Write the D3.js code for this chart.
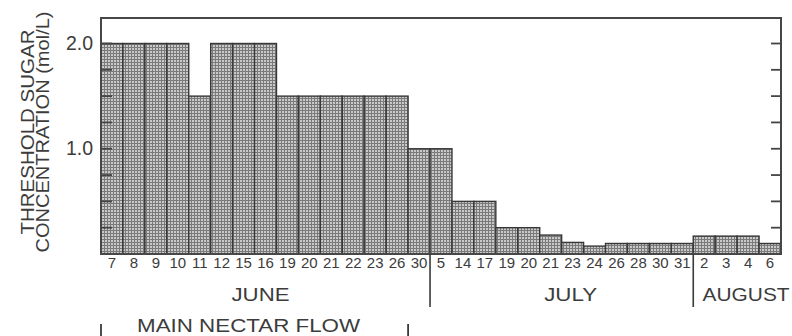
<!DOCTYPE html>
<html>
<head>
<meta charset="utf-8">
<script src="https://cdn.jsdelivr.net/npm/d3@7/dist/d3.min.js"></script>
<style>
  html, body { margin: 0; padding: 0; background: #ffffff; }
  svg { display: block; }
  text { font-family: "Liberation Sans", Arial, Helvetica, sans-serif; fill: #3c3c3c; }
</style>
</head>
<body>
<svg id="chart" width="792" height="336"></svg>
<script>
// Threshold sugar concentration (mol/L) by sampling day, grouped by month
const months = ["JUNE", "JULY", "AUGUST"];
const juneDays = [7, 8, 9, 10, 11, 12, 15, 16, 19, 20, 21, 22, 23, 26, 30];
const juneValues = [2.0, 2.0, 2.0, 2.0, 1.5, 2.0, 2.0, 2.0, 1.5, 1.5, 1.5, 1.5, 1.5, 1.5, 1.0];
const julyDays = [5, 14, 17, 19, 20, 21, 23, 24, 26, 28, 30, 31];
const julyValues = [1.0, 0.5, 0.5, 0.25, 0.25, 0.18, 0.11, 0.075, 0.1, 0.1, 0.1, 0.1];
const augustDays = [2, 3, 4, 6];
const augustValues = [0.17, 0.17, 0.17, 0.1];
const yTickLabels = [2.0, 1.0];
const yMinorTicks = [0.25, 0.5, 0.75, 1.0, 1.25, 1.5, 1.75, 2.0];
// Main nectar flow: June 7 through June 26
const nectarFlow = { label: "MAIN NECTAR FLOW", from: "JUNE-7", to: "JUNE-26" };
const yTitle = ["THRESHOLD SUGAR", "CONCENTRATION (mol/L)"];

const monthDays = [juneDays, julyDays, augustDays];
const monthValues = [juneValues, julyValues, augustValues];
const data = [];
months.forEach((m, i) => {
  monthDays[i].forEach((d, j) => {
    data.push({ key: m + "-" + d, month: m, day: d, value: monthValues[i][j] });
  });
});

const svg = d3.select("#chart");
const plotLeft = 101, plotRight = 781, plotTop = 18;

const x = d3.scaleBand().domain(data.map(d => d.key)).range([plotLeft, plotRight]).padding(0);
const y = d3.scaleLinear().domain([0, 2]).range([254, 43.5]);

// Stippled fill for the bars
const defs = svg.append("defs");
const pat = defs.append("pattern")
  .attr("id", "stipple").attr("patternUnits", "userSpaceOnUse")
  .attr("width", 3).attr("height", 3);
pat.append("rect").attr("width", 3).attr("height", 3).attr("fill", "#c9c9c9");
pat.append("rect").attr("x", 2).attr("width", 1).attr("height", 3).attr("fill", "#7a7a7a");
pat.append("rect").attr("y", 2).attr("width", 3).attr("height", 1).attr("fill", "#7a7a7a");

// Bars
svg.append("g").selectAll("rect").data(data).join("rect")
  .attr("x", d => x(d.key))
  .attr("y", d => y(d.value))
  .attr("width", x.bandwidth())
  .attr("height", d => y(0) - y(d.value))
  .attr("fill", "url(#stipple)")
  .attr("stroke", "#383838")
  .attr("stroke-width", 1.4);

// Frame
svg.append("rect")
  .attr("x", plotLeft).attr("y", plotTop)
  .attr("width", plotRight - plotLeft).attr("height", y(0) - plotTop)
  .attr("fill", "none").attr("stroke", "#474747").attr("stroke-width", 2);

// Inward ticks on both sides
const tickG = svg.append("g").attr("stroke", "#444").attr("stroke-width", 1.8);
tickG.selectAll("line.l").data(yMinorTicks).join("line").attr("class", "l")
  .attr("x1", plotLeft).attr("x2", plotLeft + 11)
  .attr("y1", d => y(d)).attr("y2", d => y(d));
tickG.selectAll("line.r").data(yMinorTicks).join("line").attr("class", "r")
  .attr("x1", plotRight - 10).attr("x2", plotRight)
  .attr("y1", d => y(d)).attr("y2", d => y(d));

// Y tick labels
svg.append("g").selectAll("text").data(yTickLabels).join("text")
  .attr("x", 93).attr("y", d => y(d) - 1).attr("dy", "0.36em")
  .attr("text-anchor", "end").attr("font-size", 19.5)
  .text(d => d.toFixed(1));

// Y title (two lines)
svg.append("text")
  .attr("transform", "translate(33.5,132) rotate(-90)")
  .attr("text-anchor", "middle").attr("font-size", 18)
  .attr("textLength", 205).attr("lengthAdjust", "spacingAndGlyphs")
  .text(yTitle[0]);
svg.append("text")
  .attr("transform", "translate(49,132) rotate(-90)")
  .attr("text-anchor", "middle").attr("font-size", 18)
  .attr("textLength", 241).attr("lengthAdjust", "spacingAndGlyphs")
  .text(yTitle[1]);

// Day labels
svg.append("g").selectAll("text").data(data).join("text")
  .attr("x", d => x(d.key) + x.bandwidth() / 2)
  .attr("y", 268)
  .attr("text-anchor", "middle").attr("font-size", 15)
  .text(d => d.day);

// Month dividers and labels
const monthSpan = months.map(m => {
  const keys = data.filter(d => d.month === m).map(d => d.key);
  return { month: m, x0: x(keys[0]), x1: x(keys[keys.length - 1]) + x.bandwidth() };
});
svg.append("g").selectAll("line").data(monthSpan.slice(1)).join("line")
  .attr("x1", d => d.x0).attr("x2", d => d.x0)
  .attr("y1", y(0)).attr("y2", 307)
  .attr("stroke", "#3a3a3a").attr("stroke-width", 1.6);

const monthShift = { JUNE: -5, JULY: 9, AUGUST: 9 };
const monthWidth = { JUNE: 58, JULY: 53, AUGUST: 87 };
svg.append("g").selectAll("text").data(monthSpan).join("text")
  .attr("x", d => (d.x0 + d.x1) / 2 + monthShift[d.month])
  .attr("y", 300.5)
  .attr("text-anchor", "middle").attr("font-size", 19)
  .attr("textLength", d => monthWidth[d.month]).attr("lengthAdjust", "spacingAndGlyphs")
  .text(d => d.month);

// Main nectar flow bracket
const nfX0 = x(nectarFlow.from), nfX1 = x(nectarFlow.to) + x.bandwidth();
svg.append("g").selectAll("line").data([nfX0, nfX1]).join("line")
  .attr("x1", d => d).attr("x2", d => d)
  .attr("y1", 324).attr("y2", 336)
  .attr("stroke", "#3a3a3a").attr("stroke-width", 1.8);
svg.append("text")
  .attr("x", (nfX0 + nfX1) / 2 - 6).attr("y", 332)
  .attr("text-anchor", "middle").attr("font-size", 18.5)
  .attr("textLength", 223).attr("lengthAdjust", "spacingAndGlyphs")
  .text(nectarFlow.label);
</script>
</body>
</html>
